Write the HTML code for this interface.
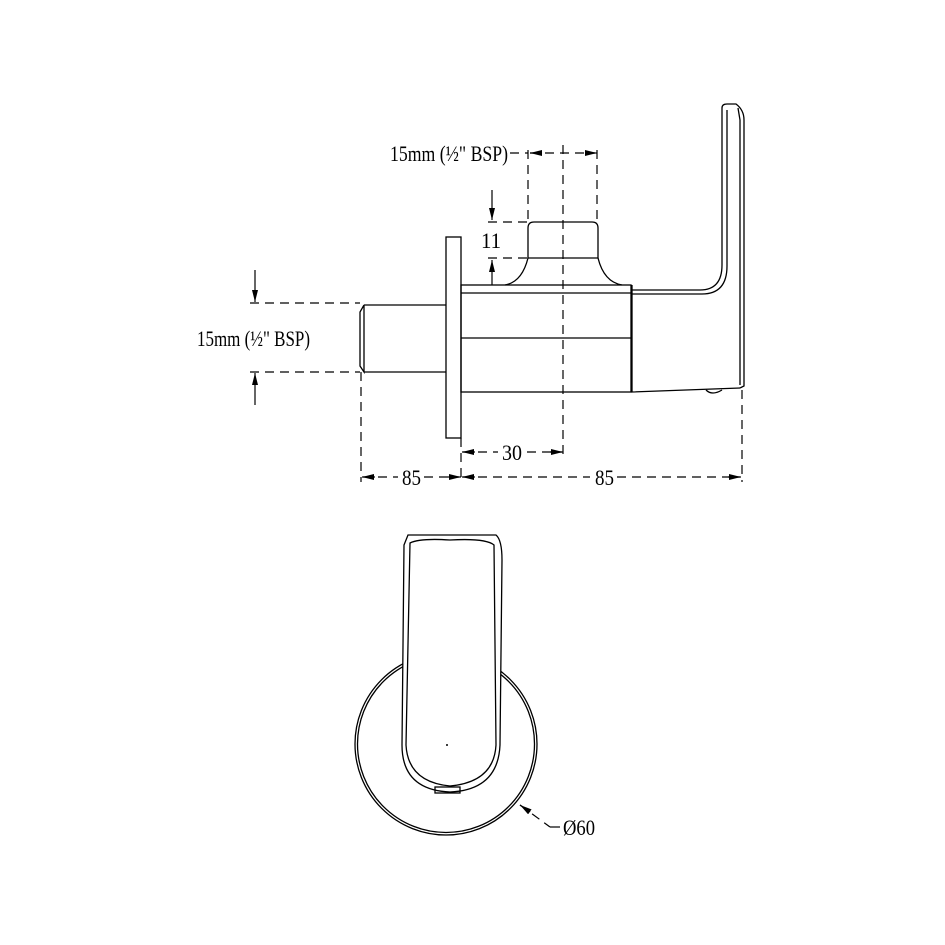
<!DOCTYPE html>
<html><head><style>body{margin:0;background:#fff}svg{display:block}</style></head><body>
<svg width="945" height="945" viewBox="0 0 945 945" xmlns="http://www.w3.org/2000/svg" font-family="Liberation Serif, serif" font-weight="bold">
<defs><marker id="a" markerWidth="12" markerHeight="6" refX="12" refY="3" orient="auto" markerUnits="userSpaceOnUse"><path d="M0,0 L12,3 L0,6 z" fill="#000"/></marker></defs>
<g stroke="#000" stroke-width="1.3" fill="none">
<path d="M364,305 L446,305 M364,372 L446,372 M364,305 L360,312 L360,366 L364,372 L364,305"/>
<rect x="446" y="237" width="15" height="201"/>
<rect x="461" y="285" width="170" height="107"/>
<line x1="461" y1="293" x2="631" y2="293"/>
<line x1="461" y1="338" x2="631" y2="338"/>
<path d="M528,258 L528,228 Q528,222 534,222 L592,222 Q598,222 598,228 L598,258 L528,258"/>
<path d="M528,258 Q522,282 505,285 M598,258 Q604,282 622,285"/>
<path d="M632,285 L632,392 L740,388"/>
<path d="M632,290 L700,290 Q722,290 722,265 L722,108 Q722,104 727,104 L736,104 Q744,110 744,120 L744,386 L740,388"/>
<path d="M632,294 L702,294 Q727,294 727,266 L727,110 M738,108 L740,120 L740,385"/>
<path d="M706,390 Q712,396 722,390" />
<circle cx="446" cy="744" r="91"/>
<circle cx="446" cy="744" r="88.5"/>
<path d="M408,535 L496,535 Q502,540 502,560 L500,745 Q498,790 450,792 Q402,790 402,745 L404,545 Z" fill="#fff"/>
<path d="M410,543 Q420,538 450,540 Q486,538 494,545 L496,745 Q494,782 450,786 Q408,782 406,745 Z"/>
<rect x="435" y="787" width="25" height="6"/>
</g>
<circle cx="447" cy="745" r="1" fill="#000"/>
<g stroke="#000" stroke-width="1.2" stroke-dasharray="9,6" fill="none">
<line x1="563" y1="145" x2="563" y2="456"/>
<line x1="528" y1="150" x2="528" y2="222"/>
<line x1="597" y1="150" x2="597" y2="222"/>
<line x1="488" y1="222" x2="528" y2="222"/>
<line x1="488" y1="258" x2="528" y2="258"/>
<line x1="250" y1="303" x2="360" y2="303"/>
<line x1="250" y1="372" x2="360" y2="372"/>
<line x1="361" y1="372" x2="361" y2="482"/>
<line x1="461" y1="438" x2="461" y2="482"/>
<line x1="742" y1="390" x2="742" y2="482"/>
<line x1="510" y1="153" x2="528" y2="153"/>
<line x1="530" y1="153" x2="595" y2="153"/>
<line x1="463" y1="452" x2="498" y2="452"/>
<line x1="527" y1="452" x2="562" y2="452"/>
<line x1="363" y1="477" x2="398" y2="477"/>
<line x1="424" y1="477" x2="459" y2="477"/>
<line x1="463" y1="477" x2="590" y2="477"/>
<line x1="617" y1="477" x2="740" y2="477"/>
<line x1="520" y1="805" x2="550" y2="827"/>
</g>
<g stroke="#000" stroke-width="1.2" fill="none">
<line x1="540" y1="153" x2="530" y2="153" marker-end="url(#a)"/>
<line x1="585" y1="153" x2="597" y2="153" marker-end="url(#a)"/>
<line x1="492" y1="190" x2="492" y2="220" marker-end="url(#a)"/>
<line x1="492" y1="285" x2="492" y2="260" marker-end="url(#a)"/>
<line x1="255" y1="270" x2="255" y2="302" marker-end="url(#a)"/>
<line x1="255" y1="405" x2="255" y2="373" marker-end="url(#a)"/>
<line x1="475" y1="452" x2="462" y2="452" marker-end="url(#a)"/>
<line x1="550" y1="452" x2="563" y2="452" marker-end="url(#a)"/>
<line x1="375" y1="477" x2="362" y2="477" marker-end="url(#a)"/>
<line x1="448" y1="477" x2="461" y2="477" marker-end="url(#a)"/>
<line x1="475" y1="477" x2="462" y2="477" marker-end="url(#a)"/>
<line x1="728" y1="477" x2="741" y2="477" marker-end="url(#a)"/>
<line x1="530" y1="812" x2="520" y2="805" marker-end="url(#a)"/>
<line x1="550" y1="827" x2="560" y2="827"/>
</g>
<g fill="#000" font-size="22" font-weight="normal">
<text x="390" y="161" textLength="118" lengthAdjust="spacingAndGlyphs">15mm (½" BSP)</text>
<text x="197" y="346" textLength="113" lengthAdjust="spacingAndGlyphs">15mm (½" BSP)</text>
<text x="481" y="248" textLength="20" lengthAdjust="spacingAndGlyphs">11</text>
<text x="502" y="460" textLength="20" lengthAdjust="spacingAndGlyphs">30</text>
<text x="402" y="485" textLength="19" lengthAdjust="spacingAndGlyphs">85</text>
<text x="595" y="485" textLength="19" lengthAdjust="spacingAndGlyphs">85</text>
<text x="563" y="835" textLength="32" lengthAdjust="spacingAndGlyphs">Ø60</text>
</g>
</svg>
</body></html>
